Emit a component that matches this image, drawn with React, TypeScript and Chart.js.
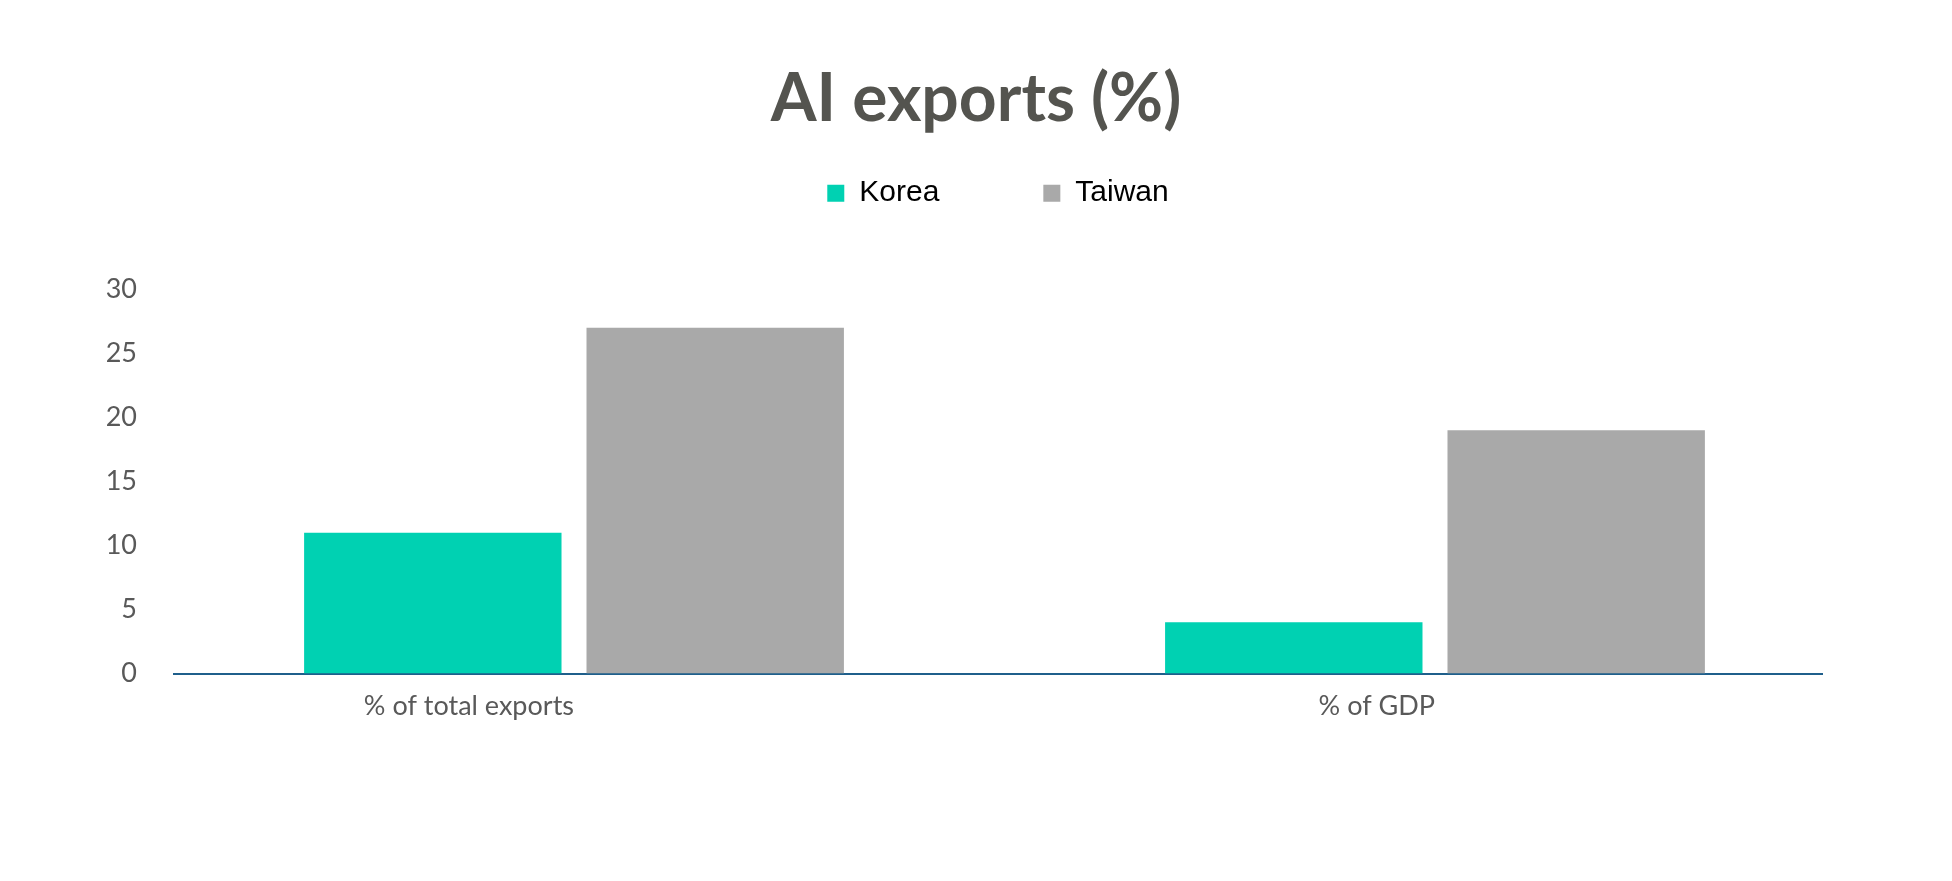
import React, { useEffect, useRef } from "react";
import { Chart, registerables } from "chart.js";

Chart.register(...registerables);

const categories = ["% of total exports", "% of GDP"];
const korea = [11, 4];
const taiwan = [27, 19];
const seriesNames = ["Korea", "Taiwan"];
const yTicks = [0, 5, 10, 15, 20, 25, 30];

export default function App() {
  const ref = useRef<HTMLCanvasElement | null>(null);

  useEffect(() => {
    if (!ref.current) return;
    const chart = new Chart(ref.current, {
      type: "bar",
      data: {
        datasets: [
          {
            label: seriesNames[0],
            data: categories.map((_, i) => ({ x: i, y: korea[i] })),
            backgroundColor: "#00D1B2",
            borderWidth: 0,
            categoryPercentage: 0.656,
            barPercentage: 0.9115,
          },
          {
            label: seriesNames[1],
            data: categories.map((_, i) => ({ x: i, y: taiwan[i] })),
            backgroundColor: "#A9A9A9",
            borderWidth: 0,
            categoryPercentage: 0.656,
            barPercentage: 0.9115,
          },
        ],
      },
      options: {
        animation: false,
        responsive: true,
        maintainAspectRatio: false,
        layout: { padding: { left: 0, right: 0, top: 0, bottom: 143 } },
        plugins: {
          title: {
            display: true,
            text: "AI exports (%)",
            color: "#54544F",
            font: { family: "Lato", weight: "bold", size: 66, lineHeight: 1.2 },
            padding: { top: 60, bottom: -65 },
          },
          legend: {
            display: true,
            position: "top",
            fullSize: false,
            labels: {
              boxWidth: 17,
              boxHeight: 17,
              padding: 104,
              color: "#000000",
              font: { family: "Liberation Sans", size: 30 },
            },
          },
          subtitle: {
            display: true,
            text: "",
            weight: 500,
            font: { size: 10, lineHeight: 1.2 },
            padding: { top: 0, bottom: 59 },
          },
          tooltip: { enabled: false },
        },
        scales: {
          x: {
            type: "linear",
            offset: false,
            min: -0.4646,
            max: 1.4495,
            grid: { display: false, drawTicks: false, offset: false },
            border: { display: true, color: "#1F5F8B", width: 2 },
            afterBuildTicks: (s: any) => {
              s.ticks = categories.map((_, i) => ({ value: i }));
            },
            afterFit: (s: any) => {
              s.paddingRight = 130;
            },
            ticks: {
              autoSkip: false,
              maxRotation: 0,
              minRotation: 0,
              align: "end",
              padding: 16,
              color: "#595959",
              font: { family: "Lato", size: 27 },
              callback: (v: any) => categories[v] ?? "",
            },
          },
          y: {
            min: 0,
            max: 30,
            grid: { display: false, drawTicks: false },
            border: { display: false },
            afterBuildTicks: (s: any) => {
              s.ticks = yTicks.map((v) => ({ value: v }));
            },
            afterFit: (s: any) => {
              s.width = 174;
            },
            ticks: {
              padding: 37,
              color: "#595959",
              font: { family: "Lato", size: 27 },
            },
          },
        },
      },
    });
    return () => chart.destroy();
  }, []);

  return (
    <div
      style={{
        position: "fixed",
        left: 0,
        top: 0,
        width: "100vw",
        height: "100vh",
        background: "#ffffff",
      }}
    >
      <canvas ref={ref} />
    </div>
  );
}
